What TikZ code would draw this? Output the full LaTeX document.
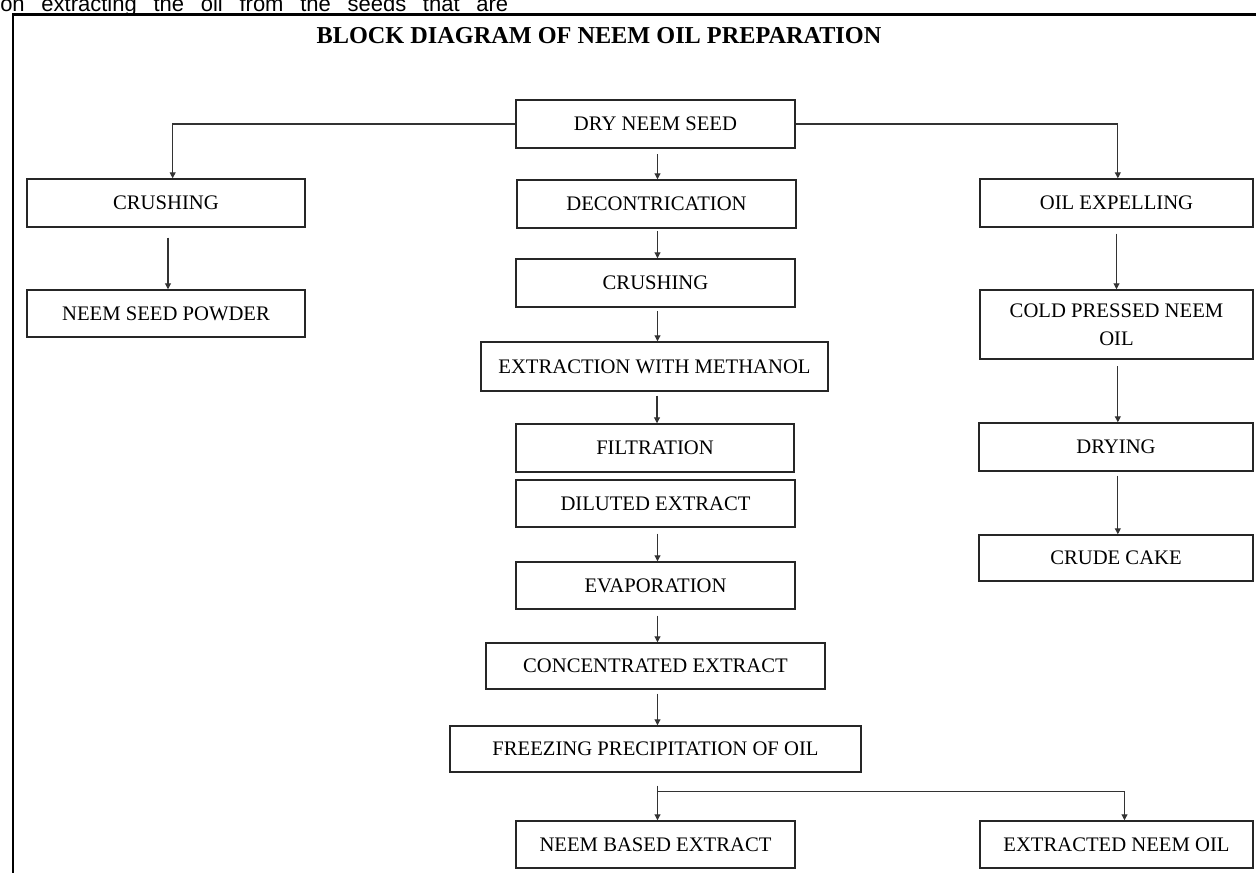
\documentclass[tikz,border=0pt]{standalone}
\usepackage{fontspec}
\setmainfont{Liberation Serif}
\newfontfamily\arialfont{Liberation Sans}
\usetikzlibrary{arrows.meta,calc}
\begin{document}
\begin{tikzpicture}[x=0.75pt,y=-0.75pt,
  bx/.style n args={4}{draw=black!85, line width=1.1pt, inner sep=0pt, align=center,
    at={({(#1+#3)/2},{(#2+#4)/2})},
    minimum width={(#3-#1)*0.75pt}, minimum height={(#4-#2)*0.75pt},
    font=\fontsize{15.5}{21}\selectfont},
  arr/.style={-{Triangle[length=4.5pt,width=4.5pt]}, line width=0.8pt, draw=black!80},
  frame/.style={line width=2pt, draw=black}
]
\useasboundingbox (0,0) rectangle (1256,873);

% top running text (cut by the page edge, as in the reference)
\node[anchor=base west, inner sep=0pt, font=\arialfont\fontsize{16.5}{18}\selectfont] (run) at (0,12)
  {\makebox[381pt][s]{on\hfill extracting\hfill the\hfill oil\hfill from\hfill the\hfill seeds\hfill that\hfill are}};

% frame
\coordinate (fbl) at (13,873);
\coordinate (ftl) at (13,14.5);
\coordinate (ftr) at (1256,14.5);
\draw[frame] (fbl) -- (ftl) -- (ftr);

% title
\node[font=\bfseries\fontsize{18.2}{20}\selectfont, inner sep=0pt] (title) at (599,36) {BLOCK DIAGRAM OF NEEM OIL PREPARATION};

% boxes
\node[bx={516}{100}{795}{148}] (dry) {DRY NEEM SEED};
\node[bx={27}{179}{305}{227}] (crushL) {CRUSHING};
\node[bx={517}{180}{796}{228}] (decon) {DECONTRICATION};
\node[bx={980}{179}{1253}{227}] (oilexp) {OIL EXPELLING};
\node[bx={516}{259}{795}{307}] (crushM) {CRUSHING};
\node[bx={27}{290}{305}{337}] (powder) {NEEM SEED POWDER};
\node[bx={980}{290}{1253}{359}] (cold) {COLD PRESSED NEEM\\OIL};
\node[bx={481}{342}{828}{391}] (extr) {EXTRACTION WITH METHANOL};
\node[bx={516}{424}{794}{472}] (filt) {FILTRATION};
\node[bx={516}{480}{795}{527}] (dil) {DILUTED EXTRACT};
\node[bx={979}{423}{1253}{471}] (drying) {DRYING};
\node[bx={979}{535}{1253}{581}] (crude) {CRUDE CAKE};
\node[bx={516}{562}{795}{609}] (evap) {EVAPORATION};
\node[bx={486}{643}{825}{689}] (conc) {CONCENTRATED EXTRACT};
\node[bx={450}{726}{861}{772}] (freeze) {FREEZING PRECIPITATION OF OIL};
\node[bx={516}{821}{795}{868}] (nbe) {NEEM BASED EXTRACT};
\node[bx={980}{821}{1253}{868}] (eno) {EXTRACTED NEEM OIL};

% connectors
\draw[arr] (dry.west) -| ([xshift=5pt]crushL.north);
\draw[arr] (dry.east) -| ([xshift=1pt]oilexp.north);
\draw[arr, shorten <=4pt] ([xshift=1.5pt]dry.south) -- ([xshift=1.5pt]dry.south |- decon.north);
\draw[arr, shorten <=2pt] ([xshift=1.5pt]crushM.south |- decon.south) -- ([xshift=1.5pt]crushM.north);
\draw[arr, shorten <=2.5pt] ([xshift=1.5pt]crushM.south) -- ([xshift=1.5pt]crushM.south |- extr.north);
\draw[arr, shorten <=3pt] ([xshift=1.5pt]filt.south |- extr.south) -- ([xshift=1.5pt]filt.north);
\draw[arr, shorten <=4.5pt] ([xshift=1.5pt]dil.south) -- ([xshift=1.5pt]dil.south |- evap.north);
\draw[arr, shorten <=4.5pt] ([xshift=1.5pt]evap.south) -- ([xshift=1.5pt]evap.south |- conc.north);
\draw[arr, shorten <=3pt] ([xshift=1.5pt]evap.south |- conc.south) -- ([xshift=1.5pt]evap.south |- freeze.north);
\draw[arr, shorten <=7.5pt] ([xshift=1.5pt]crushL.south) -- ([xshift=1.5pt]crushL.south |- powder.north);
\draw[arr, shorten <=4.5pt] (oilexp.south) -- (oilexp.south |- cold.north);
\draw[arr, shorten <=5pt] ([xshift=1pt]cold.south) -- ([xshift=1pt]cold.south |- drying.north);
\draw[arr, shorten <=3pt] ([xshift=1pt]cold.south |- drying.south) -- ([xshift=1pt]cold.south |- crude.north);
\coordinate (br) at ($(nbe.south |- freeze.south)+(1.5,19)$);
\draw[arr, shorten <=9.75pt] ([xshift=1.5pt]nbe.north |- freeze.south) -- ([xshift=1.5pt]nbe.north);
\draw[arr] (br) -| ([xshift=6pt]eno.north);
\end{tikzpicture}
\end{document}
